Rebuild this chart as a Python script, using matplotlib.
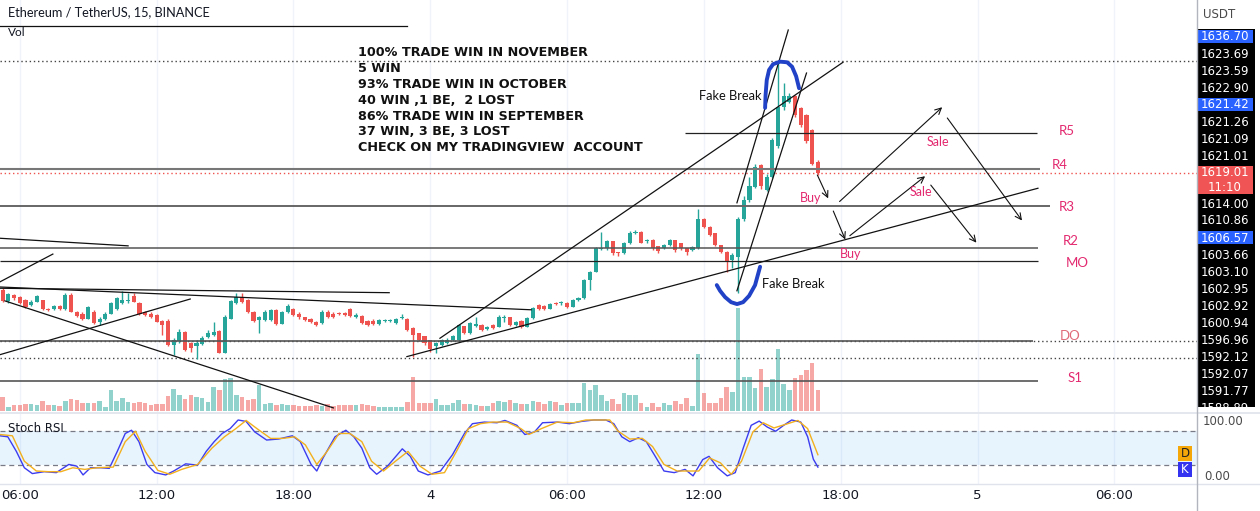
import numpy as np
import matplotlib
matplotlib.use('Agg')
import matplotlib.pyplot as plt
from matplotlib.patches import Rectangle

# ---------------- data ----------------
# candle index: 0 = 06:00 of day 3, one candle = 15 min
idx = list(range(-3, 141))

opens = [1600.6, 1598.8, 1599.7, 1599.4, 1599.0, 1598.2, 1598.7, 1598.9, 1597.6, 1597.5,
         1598.0, 1597.5, 1599.7, 1597.1, 1596.8, 1596.0, 1597.1, 1595.5, 1595.9, 1596.8,
         1597.5, 1598.4, 1598.8, 1599.5, 1598.5, 1597.1, 1596.8, 1596.6, 1595.7, 1595.7,
         1591.8, 1592.4, 1593.9, 1592.1, 1591.6, 1592.0, 1593.1, 1593.4, 1594.1, 1590.6,
         1596.0, 1598.5, 1599.4, 1598.9, 1597.1, 1595.8, 1595.8, 1595.8, 1597.4, 1595.2,
         1597.0, 1597.5, 1596.8, 1596.2, 1596.0, 1595.5, 1595.3, 1597.1, 1596.8, 1596.9,
         1596.9, 1597.5, 1596.3, 1596.4, 1595.7, 1595.7, 1595.2, 1595.6, 1595.7, 1595.3,
         1596.1, 1596.0, 1594.5, 1593.7, 1593.2, 1592.6, 1591.6, 1591.8, 1592.2, 1592.6,
         1592.6, 1594.8, 1593.7, 1594.8, 1595.0, 1594.3, 1595.0, 1594.7, 1596.1, 1596.2,
         1595.0, 1595.7, 1594.7, 1596.1, 1598.2, 1598.0, 1597.6, 1598.4, 1598.4, 1598.5,
         1597.9, 1598.9, 1599.2, 1602.1, 1603.4, 1607.0, 1607.1, 1608.2, 1606.4, 1606.3,
         1607.9, 1609.6, 1609.7, 1608.2, 1608.5, 1607.4, 1607.1, 1607.6, 1608.4, 1607.9,
         1607.1, 1606.8, 1607.1, 1611.7, 1610.5, 1609.5, 1607.6, 1606.6, 1605.3, 1605.8,
         1611.7, 1614.7, 1616.8, 1620.3, 1616.4, 1618.4, 1623.2, 1629.5, 1630.3, 1631.1,
         1629.2, 1628.2, 1625.8, 1620.8]
closes = [1598.8, 1599.9, 1599.2, 1598.5, 1597.9, 1598.7, 1599.5, 1597.6, 1597.4, 1598.0,
          1597.5, 1599.7, 1597.1, 1596.4, 1596.0, 1597.8, 1595.3, 1596.0, 1596.8, 1598.5,
          1599.2, 1599.0, 1599.0, 1598.7, 1596.7, 1596.6, 1596.3, 1595.5, 1595.0, 1591.8,
          1592.6, 1593.9, 1591.0, 1591.3, 1592.1, 1593.0, 1593.7, 1593.9, 1590.6, 1596.3,
          1598.8, 1599.4, 1598.7, 1597.0, 1595.7, 1596.2, 1597.1, 1597.3, 1595.2, 1597.0,
          1598.0, 1596.6, 1596.2, 1595.8, 1595.5, 1595.0, 1597.1, 1596.3, 1596.3, 1596.7,
          1596.6, 1596.4, 1596.6, 1595.3, 1595.0, 1595.2, 1595.8, 1595.7, 1595.8, 1595.9,
          1596.3, 1594.2, 1593.4, 1592.6, 1592.1, 1591.2, 1592.1, 1592.6, 1592.7, 1593.2,
          1595.0, 1593.7, 1595.3, 1595.2, 1594.2, 1594.7, 1594.5, 1596.3, 1596.3, 1595.0,
          1595.5, 1594.7, 1596.1, 1597.7, 1597.5, 1597.6, 1598.3, 1598.3, 1598.5, 1597.9,
          1598.9, 1599.2, 1602.1, 1603.4, 1607.1, 1607.1, 1608.2, 1606.3, 1606.3, 1607.9,
          1609.6, 1609.7, 1608.0, 1608.3, 1607.1, 1606.7, 1607.6, 1608.4, 1606.8, 1607.1,
          1606.6, 1607.3, 1611.8, 1610.5, 1609.2, 1607.6, 1606.6, 1605.0, 1606.1, 1611.7,
          1614.7, 1617.0, 1620.0, 1616.9, 1618.4, 1624.2, 1629.5, 1631.1, 1631.1, 1628.2,
          1626.6, 1624.0, 1620.5, 1619.01]
highs = [1600.8, 1600.1, 1599.9, 1599.6, 1599.1, 1598.9, 1599.7, 1599.0, 1597.7, 1598.2,
         1598.2, 1600.0, 1600.0, 1597.2, 1597.0, 1598.0, 1597.3, 1596.3, 1597.0, 1598.7,
         1599.4, 1600.3, 1600.0, 1600.0, 1598.6, 1597.2, 1597.0, 1596.8, 1595.8, 1595.9,
         1592.9, 1594.4, 1594.0, 1592.3, 1592.6, 1593.3, 1594.2, 1595.4, 1594.2, 1596.5,
         1599.0, 1600.0, 1600.0, 1599.1, 1597.2, 1596.4, 1597.3, 1597.5, 1597.6, 1597.2,
         1598.3, 1597.7, 1597.0, 1596.3, 1596.1, 1595.6, 1597.3, 1597.3, 1597.0, 1597.1,
         1597.1, 1597.7, 1596.9, 1596.6, 1595.8, 1595.9, 1596.0, 1595.9, 1596.0, 1596.1,
         1596.7, 1596.1, 1594.6, 1593.8, 1593.3, 1592.7, 1592.3, 1592.8, 1592.9, 1593.4,
         1595.2, 1594.9, 1595.5, 1596.3, 1595.1, 1594.9, 1595.2, 1596.5, 1596.6, 1596.3,
         1595.7, 1595.8, 1596.3, 1597.9, 1598.3, 1598.1, 1598.5, 1598.6, 1598.8, 1598.6,
         1599.1, 1599.4, 1602.3, 1603.6, 1607.3, 1609.7, 1608.4, 1608.3, 1606.6, 1608.1,
         1609.8, 1610.0, 1609.8, 1608.6, 1608.6, 1607.5, 1607.8, 1608.6, 1608.5, 1608.0,
         1607.2, 1607.5, 1613.4, 1611.9, 1610.6, 1609.6, 1607.7, 1606.7, 1606.3, 1612.0,
         1615.3, 1618.4, 1620.5, 1620.5, 1618.8, 1624.6, 1636.7, 1633.2, 1631.6, 1631.4,
         1629.4, 1628.4, 1626.0, 1621.0]
lows = [1598.6, 1598.4, 1599.0, 1598.3, 1597.7, 1598.0, 1598.6, 1597.4, 1597.2, 1597.3,
        1597.3, 1597.4, 1597.0, 1596.2, 1595.8, 1595.9, 1595.1, 1595.0, 1595.8, 1596.7,
        1597.4, 1598.3, 1598.4, 1598.6, 1596.6, 1596.4, 1596.1, 1595.4, 1593.4, 1591.6,
        1590.3, 1592.2, 1590.9, 1590.8, 1589.7, 1591.8, 1592.9, 1593.3, 1590.5, 1590.5,
        1595.9, 1598.3, 1598.5, 1596.9, 1595.5, 1593.7, 1595.7, 1595.7, 1595.0, 1595.1,
        1596.9, 1596.4, 1596.0, 1595.6, 1595.3, 1594.8, 1595.2, 1596.1, 1596.1, 1596.5,
        1596.4, 1596.2, 1596.1, 1595.1, 1594.8, 1595.0, 1595.0, 1595.4, 1595.5, 1595.1,
        1596.0, 1594.0, 1590.0, 1592.4, 1591.9, 1590.8, 1590.6, 1591.6, 1592.0, 1592.4,
        1592.5, 1593.5, 1593.6, 1594.7, 1594.0, 1594.2, 1594.3, 1594.6, 1595.5, 1594.8,
        1594.9, 1594.5, 1594.6, 1596.0, 1597.3, 1597.4, 1597.5, 1598.1, 1598.2, 1597.7,
        1597.8, 1598.8, 1599.1, 1600.5, 1603.3, 1606.8, 1606.9, 1606.1, 1605.9, 1606.2,
        1607.8, 1609.4, 1607.9, 1608.0, 1606.9, 1606.3, 1607.0, 1607.5, 1606.6, 1606.9,
        1606.1, 1606.7, 1607.0, 1610.3, 1609.0, 1607.4, 1606.4, 1603.4, 1604.0, 1600.0,
        1611.5, 1614.5, 1616.6, 1616.5, 1616.2, 1618.2, 1623.0, 1629.0, 1630.0, 1627.8,
        1626.3, 1623.8, 1620.3, 1618.7]
volume = [14, 4, 6, 6, 7, 7, 6, 10, 6, 6, 5, 10, 12, 11, 8, 8, 8, 10, 4, 21,
          10, 13, 9, 8, 9, 8, 6, 7, 7, 15, 22, 16, 12, 16, 14, 13, 9, 24, 21, 32,
          33, 16, 14, 11, 12, 26, 7, 8, 6, 7, 6, 6, 5, 5, 5, 6, 5, 7, 5, 6,
          6, 6, 6, 7, 6, 5, 4, 4, 4, 4, 4, 9, 34, 8, 8, 8, 12, 6, 6, 8,
          11, 7, 7, 6, 5, 5, 8, 10, 9, 11, 8, 7, 7, 10, 9, 7, 10, 9, 6, 8,
          8, 8, 28, 21, 26, 16, 10, 12, 7, 18, 16, 16, 8, 4, 8, 4, 8, 6, 10, 7,
          13, 5, 57, 18, 8, 8, 13, 24, 19, 103, 34, 34, 23, 42, 24, 32, 62, 27, 21, 33,
          36, 41, 48, 21]

# Stoch RSI (candle index, value)
k_x = [-3.5, -2.1, -0.6, 0.8, 2.2, 4.3, 6.4, 8.6, 10.0, 11.1, 12.4, 14.2, 15.7, 17.1, 18.5,
       19.6, 20.9, 22.3, 23.7, 25.6, 27.0, 29.1, 31.2, 32.7, 34.1, 35.5, 36.9, 38.3, 39.7,
       41.2, 43.3, 45.4, 47.8, 49.2, 51.1, 52.1, 53.2, 55.3, 57.2, 58.6, 60.0, 61.4, 62.6,
       64.5, 67.1, 68.5, 69.9, 71.6, 73.8, 75.9, 78.0, 79.4, 81.5, 83.7, 85.1, 87.2, 88.6,
       90.3, 91.7, 94.3, 96.4, 98.5, 100.7, 102.8, 104.2, 105.6, 107.0, 108.5, 109.9, 111.3,
       113.0, 114.8, 116.7, 118.1, 119.8, 120.9, 122.4, 124.1, 125.5, 126.9, 128.3, 129.7,
       131.1, 132.6, 134.0, 135.4, 137.0, 138.2, 139.2, 140.0]
k_y = [71.8, 70.0, 43.9, 14.7, 4.3, 7.7, 6.0, 20.6, 17.6, 1.9, 14.7, 14.7, 13.6, 43.9, 75.9,
       81.7, 61.3, 20.6, 6.0, 1.9, 8.9, 21.7, 19.4, 43.9, 61.3, 75.9, 84.6, 100.0, 97.4,
       78.8, 64.2, 66.0, 71.8, 61.3, 20.6, 8.9, 32.2, 70.0, 81.7, 70.0, 49.7, 14.7, 3.1,
       17.6, 48.5, 35.1, 8.9, 1.9, 8.9, 38.0, 75.9, 93.4, 96.3, 95.1, 99.2, 90.5, 74.1,
       78.8, 95.1, 96.3, 93.4, 97.4, 100.0, 100.0, 93.4, 70.0, 61.3, 68.3, 61.3, 38.0,
       8.9, 6.0, 11.8, 0.2, 29.3, 35.1, 14.7, 0.2, 6.0, 49.7, 90.5, 98.0,
       87.5, 79.9, 90.5, 100.0, 96.3, 70.0, 30.0, 15.9]
d_x = [-3.5, -1.3, 0.8, 2.9, 5.0, 7.2, 9.3, 11.4, 13.5, 16.4, 18.5, 20.3, 22.0, 24.2, 26.3,
       28.4, 31.2, 33.7, 35.9, 37.9, 39.7, 41.6, 44.0, 46.1, 48.2, 50.1, 52.1, 53.9, 56.0,
       57.9, 60.0, 61.7, 63.8, 65.9, 68.1, 70.2, 72.3, 74.5, 76.6, 78.7, 80.8, 83.0, 85.5,
       87.9, 89.3, 91.5, 94.3, 97.1, 99.3, 103.5, 104.9, 107.0, 109.2, 111.0, 113.0, 115.3,
       117.3, 119.1, 121.0, 122.9, 124.8, 126.6, 128.6, 130.4, 132.3, 134.7, 136.5, 138.2,
       140.0]
d_y = [74.1, 71.8, 26.4, 8.9, 7.7, 7.7, 14.7, 11.8, 14.7, 15.9, 61.3, 79.9, 43.9, 10.1, 3.1,
       11.8, 20.6, 49.7, 70.0, 84.6, 99.2, 84.6, 67.1, 67.1, 70.0, 55.5, 20.6, 43.9, 75.9,
       75.9, 61.3, 26.4, 8.9, 26.4, 43.9, 17.6, 3.1, 6.0, 43.9, 84.6, 93.4, 96.3, 96.3,
       84.6, 74.1, 84.6, 96.3, 95.1, 100.0, 100.0, 80.5, 66.0, 67.2, 52.6, 20.6, 8.9,
       8.9, 8.9, 32.2, 23.5, 3.1, 26.4, 78.8, 95.1, 85.8, 93.4, 99.2, 84.6,
       38.0]

tick_pos = [0, 24, 48, 72, 96, 120, 144, 168, 192]
tick_txt = ['06:00', '12:00', '18:00', '4', '06:00', '12:00', '18:00', '5', '06:00']

# horizontal levels drawn on the chart
lvl_name = ['R5', 'R4', 'R3', 'R2', 'MO', 'DO', 'S1']
lvl_price = [1625.3, 1619.6, 1613.8, 1607.2, 1605.1, 1592.5, 1586.1]
lvl_start = [116.7, -3.5, -3.5, -3.5, -3.5, -3.5, -3.5]
lvl_end = [178.5, 179.0, 180.7, 178.6, 178.6, 177.8, 178.6]
lvl_lab_x = [183.6, 182.5, 183.6, 184.3, 185.5, 184.3, 185.1]
lvl_lab_y = [1625.6, 1620.3, 1613.6, 1608.3, 1604.8, 1593.3, 1586.6]

# dotted full width lines (high, last price, two lows)
dot_price = [1636.7, 1619.01, 1592.5, 1589.8]

# trend lines ((idx, price), (idx, price))
trend = [((-3.5, 1600.8), (64.8, 1600.1)),
         ((-3.5, 1601.0), (89.7, 1597.4)),
         ((-2.6, 1598.8), (55.0, 1581.9)),
         ((-3.5, 1590.3), (29.9, 1599.1)),
         ((-3.5, 1601.8), (5.8, 1606.2)),
         ((-3.5, 1608.7), (19.0, 1607.5)),
         ((67.9, 1590.0), (178.6, 1616.6)),
         ((73.7, 1592.9), (144.4, 1636.5)),
         ((125.8, 1614.3), (134.8, 1641.6)),
         ((125.8, 1600.4), (138.0, 1634.8)),
         ((-3.5, 1642.2), (67.9, 1642.2))]

# arrows (start, end)
arrows = [((139.9, 1618.7), (141.8, 1615.0)),
          ((143.8, 1614.5), (161.8, 1629.4)),
          ((162.7, 1627.7), (175.8, 1611.5)),
          ((142.7, 1613.0), (144.8, 1608.5)),
          ((145.6, 1609.1), (158.8, 1618.5)),
          ((159.8, 1617.1), (167.8, 1608.0))]

# hand drawn blue arcs
arc_top_x = [130.74, 130.82, 131.03, 131.44, 132.14, 133.37, 134.60, 135.47, 136.18, 136.70]
arc_top_y = [1629.3, 1631.3, 1633.7, 1635.3, 1636.2, 1636.6, 1636.5, 1635.8, 1634.3, 1632.4]
arc_bot_x = [122.26, 122.84, 123.72, 124.77, 125.82, 126.88, 127.93, 128.98, 129.86]
arc_bot_y = [1601.3, 1600.4, 1599.4, 1598.6, 1598.3, 1598.6, 1599.6, 1601.3, 1604.2]

trade_txt = ['Sale', 'Sale', 'Buy', 'Buy']
trade_x = [161.1, 158.1, 138.8, 145.8]
trade_y = [1623.9, 1616.0, 1615.1, 1606.2]

stats_text = ("100% TRADE WIN IN NOVEMBER\n5 WIN\n93% TRADE WIN IN OCTOBER\n"
              "40 WIN ,1 BE,  2 LOST\n86% TRADE WIN IN SEPTEMBER\n37 WIN, 3 BE, 3 LOST\n"
              "CHECK ON MY TRADINGVIEW  ACCOUNT")

# right price scale labels (stacked as in the screenshot)
scale_lab = ['1636.70', '1623.69', '1623.59', '1622.90', '1621.42', '1621.26', '1621.09',
             '1621.01', '1619.01', '1614.00', '1610.86', '1606.57', '1603.66', '1603.10',
             '1602.95', '1602.92', '1600.94', '1596.96', '1592.12', '1592.07', '1591.77',
             '1588.89']
scale_col = ['blue', 'k', 'k', 'k', 'blue', 'k', 'k', 'k', 'red', 'k', 'k', 'blue', 'k', 'k',
             'k', 'k', 'k', 'k', 'k', 'k', 'k', 'k']

UP = '#26a69a'
DOWN = '#ef5350'
PINK = '#e3296f'
NARROW = ['Liberation Sans Narrow', 'DejaVu Sans']

W, H = 1260, 511


def fx(px):
    return px / W


def fy(py):
    return 1 - py / H


fig = plt.figure(figsize=(12.6, 5.11), dpi=100)
fig.patch.set_facecolor('white')

ax = fig.add_axes([0, fy(412), fx(1197), 412 / H])
axv = ax.twinx()
ax_s = fig.add_axes([0, fy(484), fx(1197), 70 / H])

xlim = (-3.47, 206.5)

# ---------------- volume ----------------
x = np.array(idx)
o = np.array(opens)
c = np.array(closes)
up = c >= o
col = np.where(up, UP, DOWN)
axv.bar(x, volume, width=0.8, color=col, alpha=0.5, linewidth=0)
axv.set_ylim(-1, 411)
axv.set_xlim(*xlim)
axv.axis('off')
ax.set_zorder(axv.get_zorder() + 1)
ax.patch.set_visible(False)

# ---------------- price ----------------
for t in tick_pos:
    axv.axvline(t, color='#f0f3fa', lw=1, zorder=0)

ax.vlines(x, lows, highs, colors=col, linewidth=1, zorder=3)
ax.bar(x, np.maximum(np.abs(c - o), 0.15), bottom=np.minimum(o, c), width=0.72,
       color=col, linewidth=0, zorder=4)

for p in dot_price:
    dc = DOWN if p == 1619.01 else '#444444'
    ax.axhline(p, color=dc, lw=1, linestyle=(0, (1, 2)), zorder=2)

lvl_col = ['#222222', '#777777', '#666666', '#555555', '#222222', '#555555', '#555555']
lvl_lw = [0.9, 1.5, 1.4, 1.1, 0.9, 1.2, 1.2]
for i in range(len(lvl_name)):
    ax.hlines(lvl_price[i], lvl_start[i], lvl_end[i], color=lvl_col[i], lw=lvl_lw[i], zorder=5)
    lc = '#e06a78' if lvl_name[i] == 'DO' else PINK
    ax.text(lvl_lab_x[i], lvl_lab_y[i], lvl_name[i], color=lc, fontsize=9.5,
            family='Lato', ha='center', va='center', zorder=6)

for (a, b) in trend:
    ax.plot([a[0], b[0]], [a[1], b[1]], color='#111111', lw=0.9, zorder=5)

for (a, b) in arrows:
    ax.annotate('', xy=b, xytext=a,
                arrowprops=dict(arrowstyle='->', color='#111111', lw=0.8,
                                shrinkA=0, shrinkB=0, mutation_scale=11), zorder=6)

ax.plot(arc_top_x, arc_top_y, color='#2142c6', lw=2.8, solid_capstyle='round',
        solid_joinstyle='round', zorder=7)
ax.plot(arc_bot_x, arc_bot_y, color='#2142c6', lw=2.8, solid_capstyle='round',
        solid_joinstyle='round', zorder=7)

for i in range(len(trade_txt)):
    ax.text(trade_x[i], trade_y[i], trade_txt[i], color=PINK, fontsize=9, family='Lato',
            ha='center', va='center', zorder=6)

ax.text(119.2, 1631.2, 'Fake Break', fontsize=9.3, family='Lato', ha='left', va='center',
        color='#111111', zorder=6)
ax.text(130.2, 1601.5, 'Fake Break', fontsize=9.3, family='Lato', ha='left', va='center',
        color='#111111', zorder=6)

ax.text(59.3, 1639.0, stats_text, fontsize=9.2, family='DejaVu Sans', weight='bold',
        ha='left', va='top', linespacing=1.28, color='#111111', zorder=6)

ax.set_xlim(*xlim)
ax.set_ylim(1581.25, 1646.34)
ax.axis('off')

# ---------------- stoch rsi ----------------
for t in tick_pos:
    ax_s.axvline(t, color='#f0f3fa', lw=1, zorder=0)
ax_s.axhspan(20, 80, color='#2196f3', alpha=0.1, lw=0, zorder=1)
ax_s.axhline(80, color='#787b86', lw=0.9, linestyle=(0, (4, 3)), zorder=2)
ax_s.axhline(20, color='#787b86', lw=0.9, linestyle=(0, (4, 3)), zorder=2)
ax_s.plot(k_x, k_y, color='#3c3cf0', lw=1.0, zorder=3)
ax_s.plot(d_x, d_y, color='#f2b01e', lw=1.0, zorder=4)
ax_s.set_xlim(*xlim)
ax_s.set_ylim(-14.3, 110.7)
ax_s.set_yticks([])
ax_s.set_xticks(tick_pos)
ax_s.set_xticklabels(tick_txt, family=NARROW, fontsize=9.5, color='#131722')
ax_s.tick_params(axis='x', length=0, pad=3.5)
for s in ax_s.spines.values():
    s.set_visible(False)
ax_s.patch.set_visible(False)

# ---------------- chrome: legend, separators, price scale ----------------
fig.text(fx(8), fy(12), 'Ethereum / TetherUS, 15, BINANCE', family='Lato', fontsize=9.2,
         color='#131722', va='center', ha='left')
fig.text(fx(8), fy(33), 'Vol', family='Lato', fontsize=8.5, color='#131722',
         va='center', ha='left')
fig.text(fx(8), fy(428), 'Stoch RSI', family=NARROW, fontsize=8.5, color='#131722',
         va='center', ha='left')

fig.add_artist(plt.Line2D([0, 1], [fy(412.5), fy(412.5)], transform=fig.transFigure,
                          color='#e0e3eb', lw=1.2))
fig.add_artist(plt.Line2D([0, 1], [fy(484), fy(484)], transform=fig.transFigure,
                          color='#e0e3eb', lw=1.0))
fig.add_artist(plt.Line2D([fx(1197), fx(1197)], [0, 1], transform=fig.transFigure,
                          color='#b2b5be', lw=1.0))

fig.text(fx(1219), fy(14), 'USDT', family=NARROW, fontsize=8.5, color='#4a4a4a',
         va='center', ha='center')
fig.add_artist(Rectangle((fx(1198), fy(407)), fx(1255 - 1198), (407 - 29) / H,
                         transform=fig.transFigure, color='black', lw=0))

ly = 37
for lab, lc in zip(scale_lab, scale_col):
    if lc == 'blue':
        fig.add_artist(Rectangle((fx(1198), fy(ly + 6.5)), fx(55), 13 / H,
                                 transform=fig.transFigure, color='#2962ff', lw=0))
    if lc == 'red':
        fig.add_artist(Rectangle((fx(1198), fy(ly + 21)), fx(55), 28 / H,
                                 transform=fig.transFigure, color='#f05454', lw=0))
        fig.text(fx(1225), fy(ly + 14), '11:10', family=NARROW, fontsize=8.5,
                 color='white', va='center', ha='center')
    fig.text(fx(1225), fy(ly), lab, family=NARROW, fontsize=8.5, color='white',
             va='center', ha='center')
    ly += 31 if lc == 'red' else 17

fig.text(fx(1223), fy(421), '100.00', family=NARROW, fontsize=8.5, color='#4a4a4a',
         va='center', ha='center')
fig.text(fx(1217), fy(476), '0.00', family=NARROW, fontsize=8.5, color='#4a4a4a',
         va='center', ha='center')

# D / K legend boxes on the stoch pane
fig.add_artist(Rectangle((fx(1178), fy(461)), fx(14), 15 / H, transform=fig.transFigure,
                         color='#f5a70a', lw=0))
fig.add_artist(Rectangle((fx(1178), fy(477)), fx(14), 15 / H, transform=fig.transFigure,
                         color='#3434f0', lw=0))
fig.text(fx(1185), fy(453.5), 'D', family=NARROW, fontsize=8.5, color='#222222',
         va='center', ha='center')
fig.text(fx(1185), fy(469.5), 'K', family=NARROW, fontsize=8.5, color='white',
         va='center', ha='center')

fig.savefig('out.png', dpi=100)
